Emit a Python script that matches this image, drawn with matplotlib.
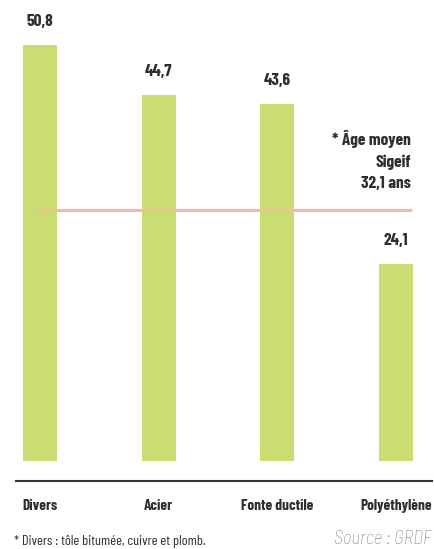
import matplotlib
matplotlib.use('Agg')
import matplotlib.pyplot as plt

categories = ["Divers", "Acier", "Fonte ductile", "Polyéthylène"]
values = [50.8, 44.7, 43.6, 24.1]
value_labels = ["50,8", "44,7", "43,6", "24,1"]
avg_line_value = 30.6
avg_label = "* Âge moyen\nSigeif\n32,1 ans"
footnote = "* Divers : tôle bitumée, cuivre et plomb."
source = "Source : GRDF"

W, H = 434, 549
fig = plt.figure(figsize=(W / 100, H / 100), dpi=100)
fig.patch.set_facecolor('white')

# axes placed in pixel geometry
left_px, right_px, top_px, bottom_px = 16, 432, 10, 481
ax = fig.add_axes([left_px / W, (H - bottom_px) / H, (right_px - left_px) / W, (bottom_px - top_px) / H])

px_per_cat = (396 - 40) / 3.0
x0 = -(40 - left_px) / px_per_cat
x1 = 3 + (right_px - 396) / px_per_cat
px_per_unit = 416 / 50.8
y0 = -(bottom_px - 461) / px_per_unit
y1 = (461 - top_px) / px_per_unit

bar_color = '#C9DD72'
txt_color = '#2E2E2E'
bold_font = dict(family='Barlow Condensed', fontweight='bold')

xs = list(range(len(categories)))
ax.bar(xs, values, width=34 / px_per_cat, color=bar_color, zorder=2)

for x, v, lab in zip(xs, values, value_labels):
    ax.text(x, v + 16 / px_per_unit, lab, ha='center', va='bottom', fontsize=12.5,
            color=txt_color, **bold_font)

# average line
ax.plot([x0 + (35 - left_px) / px_per_cat, x0 + (412 - left_px) / px_per_cat],
        [avg_line_value, avg_line_value], color='#F7B99E', lw=2.2, zorder=3,
        solid_capstyle='butt')
ax.text(x0 + (411 - left_px) / px_per_cat, (461 - 130) / px_per_unit, avg_label,
        ha='right', va='top', fontsize=12.5, color=txt_color, linespacing=1.5,
        **bold_font)

ax.set_xlim(x0, x1)
ax.set_ylim(y0, y1)
ax.set_xticks(xs)
ax.set_xticklabels(categories, fontsize=11, color=txt_color, **bold_font)
ax.tick_params(axis='x', length=0, pad=13)
ax.set_yticks([])
for s in ['left', 'right', 'top']:
    ax.spines[s].set_visible(False)
ax.spines['bottom'].set_color('#333333')
ax.spines['bottom'].set_linewidth(1.5)

fig.text(14 / W, 1 - 541 / H, footnote, ha='left', va='center', fontsize=10.3,
         color=txt_color, family='Barlow Condensed')
fig.text(432 / W, 1 - 539 / H, source, ha='right', va='center', fontsize=13.5,
         color='#8A8A8A', family='Barlow Semi Condensed', fontweight='light',
         style='italic')

fig.savefig('out.png', dpi=100)
